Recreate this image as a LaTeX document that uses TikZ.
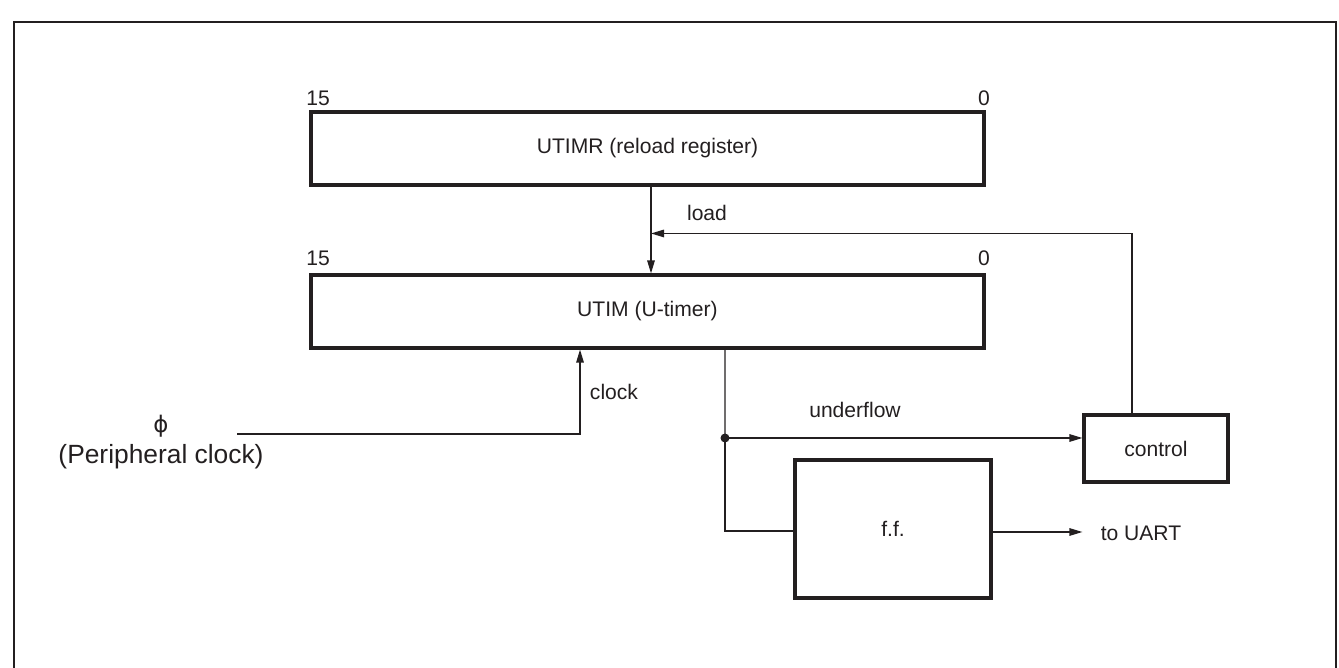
\documentclass[tikz,border=0pt]{standalone}
\usepackage{fontspec}
\setmainfont{Liberation Sans}
\newfontfamily\phifont{DejaVu Sans}
\usetikzlibrary{arrows.meta,calc}

\definecolor{ink}{RGB}{35,31,32}

\begin{document}
\begin{tikzpicture}[x=0.02cm,y=-0.02cm,
    line width=0.75pt,draw=ink,text=ink,
    font=\fontsize{12}{14}\selectfont,
    reg/.style={draw,line width=1.8pt,minimum width=13.46cm,minimum height=1.46cm},
    blk/.style={draw,line width=1.8pt},
    arr/.style={-{Triangle[length=2.6mm,width=1.5mm]}},
    junc/.style={circle,fill=ink,inner sep=0pt,minimum size=0.18cm}]
    \useasboundingbox (0,0) rectangle (1339,668);
    %
    \draw[line width=1.6pt] (14,670) -- (14,22) -- (1336,22) -- (1336,670);
    %
    \node[reg] (utimr) at (647.5,148.5) {UTIMR (reload register)};
    \node[reg] (utim) at (647.5,311.5) {UTIM (U-timer)};
    \node[blk,minimum width=3.92cm,minimum height=2.76cm] (ff) at (893,529) {f.f.};
    \node[blk,minimum width=2.88cm,minimum height=1.34cm] (ctrl) at (1156,448.5) {control};
    %
    \node (hiA) at (318,98) {15};
    \node (loA) at (984,98) {0};
    \node (hiB) at (318,258) {15};
    \node (loB) at (984,258) {0};
    %
    \node[font=\fontsize{15}{18}\selectfont,align=center] (phi) at (161,442)
        {{\phifont\fontsize{13}{18}\selectfont ϕ}\\(Peripheral clock)};
    %
    \coordinate (phiend) at (237,434);
    \coordinate (dot) at (725,438);
    \coordinate (ldpt) at ($(utimr.south)!0.54!(utim.north)$);
    %
    \draw[arr] ([xshift=0.07cm]utimr.south) -- ([xshift=0.07cm]utim.north);
    \draw[arr] ([xshift=-0.48cm]ctrl.north) |- ([xshift=0.07cm]ldpt);
    \draw[arr] (phiend) -| ([xshift=-1.35cm]utim.south);
    \draw ([xshift=1.55cm]utim.south) -- (dot);
    \draw[arr] (dot) -- (dot -| ctrl.west);
    \draw (dot) |- ([yshift=-0.04cm]ff.west);
    \draw[arr] ([yshift=-0.06cm]ff.east) -- ([yshift=-0.06cm]ff.east -| ctrl.west);
    \node[junc] (jn) at (dot) {};
    %
    \node (load) at (707,213) {load};
    \node (clk) at (614,392) {clock};
    \node (uflow) at (855,410) {underflow};
    \node (uart) at (1141,533) {to UART};
    %
\end{tikzpicture}
\end{document}
